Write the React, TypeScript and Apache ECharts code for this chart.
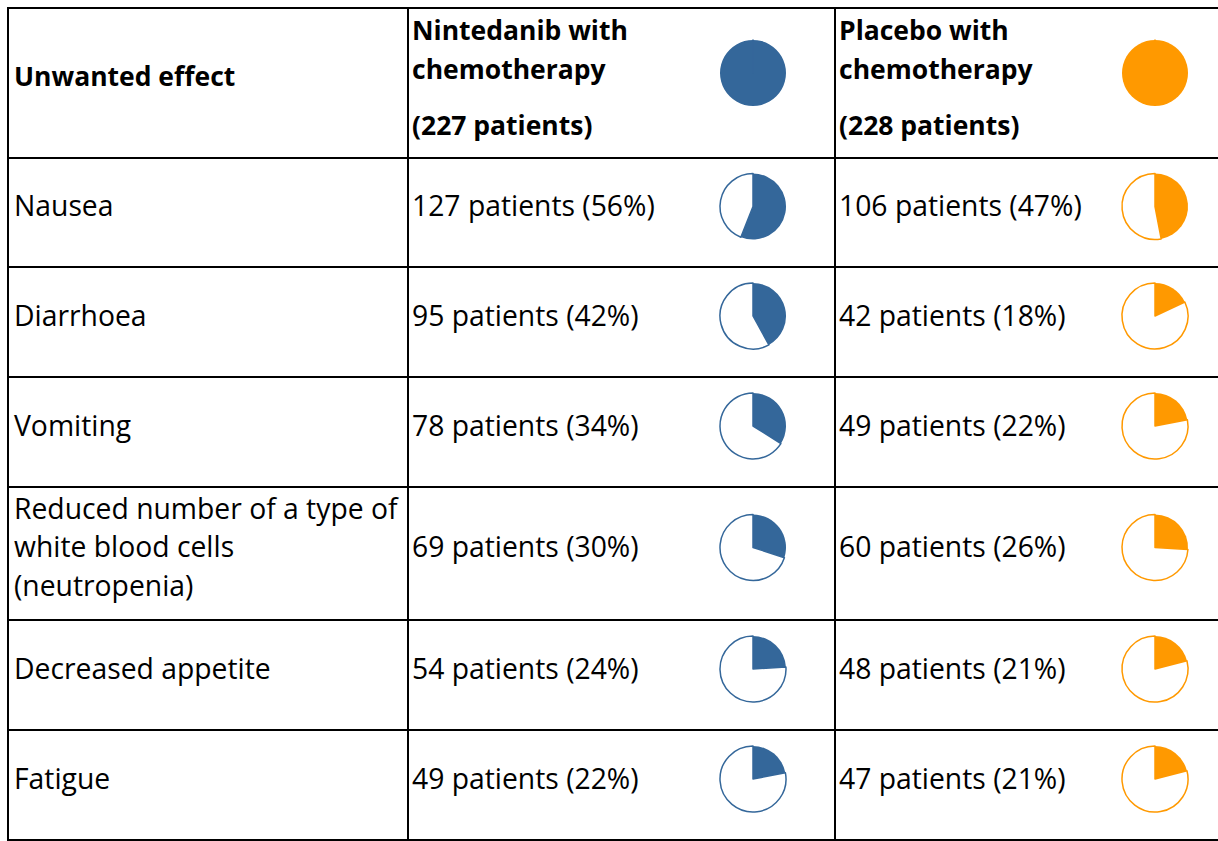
import React, { useEffect, useRef } from "react";
import * as echarts from "echarts";

const effects = [
  "Nausea",
  "Diarrhoea",
  "Vomiting",
  "Reduced number of a type of\nwhite blood cells\n(neutropenia)",
  "Decreased appetite",
  "Fatigue",
];
const nintedanibCounts = [127, 95, 78, 69, 54, 49];
const nintedanibPct = [56, 42, 34, 30, 24, 22];
const placeboCounts = [106, 42, 49, 60, 48, 47];
const placeboPct = [47, 18, 22, 26, 21, 21];
const headers = [
  "Unwanted effect",
  "Nintedanib with\nchemotherapy",
  "Placebo with\nchemotherapy",
];
const groupTotals = ["(227 patients)", "(228 patients)"];

const BLUE = "#34679A";
const ORANGE = "#FF9900";
const FONT = "'Open Sans', sans-serif";

// layout (page coordinates; chart div is absolutely positioned at 0,0)
const W = 1218;
const H = 841;
const colX = [8, 408, 835];
const rowY = [8, 158, 267, 377, 487, 620, 730, 840];
const pieX = [753, 1155];
const FS = 28.3;
const FSB = 26.5;

export default function App() {
  const ref = useRef<HTMLDivElement>(null);
  useEffect(() => {
    const chart = echarts.init(ref.current!, null, { renderer: "svg" });
    const graphics: any[] = [];
    const lw = 2;
    rowY.forEach((y) => {
      graphics.push({
        type: "line",
        shape: { x1: colX[0] - 1, y1: y, x2: W, y2: y },
        style: { stroke: "#000", lineWidth: lw },
      });
    });
    colX.forEach((x) => {
      graphics.push({
        type: "line",
        shape: { x1: x, y1: rowY[0], x2: x, y2: rowY[rowY.length - 1] },
        style: { stroke: "#000", lineWidth: lw },
      });
    });
    graphics.push({
      type: "text",
      x: colX[0] + 6,
      y: 76,
      style: {
        text: headers[0],
        font: `bold ${FSB}px ${FONT}`,
        fill: "#000",
        verticalAlign: "middle",
      },
    });
    [1, 2].forEach((i) => {
      graphics.push({
        type: "text",
        x: colX[i] + 4,
        y: 49.5,
        style: {
          text: headers[i],
          font: `bold ${FSB}px ${FONT}`,
          fill: "#000",
          verticalAlign: "middle",
          lineHeight: 39,
        },
      });
      graphics.push({
        type: "text",
        x: colX[i] + 4,
        y: 125,
        style: {
          text: groupTotals[i - 1],
          font: `bold ${FSB}px ${FONT}`,
          fill: "#000",
          verticalAlign: "middle",
        },
      });
    });
    const series: any[] = [];
    const mkPie = (cx: number, cy: number, pct: number, color: string) => ({
      type: "pie",
      center: [cx, cy],
      radius: [0, 33],
      startAngle: 90,
      clockwise: true,
      silent: true,
      label: { show: false },
      labelLine: { show: false },
      emphasis: { disabled: true },
      data: [
        { value: pct, itemStyle: { color, borderColor: color, borderWidth: 0 } },
        {
          value: 100 - pct,
          itemStyle: { color: "#fff", borderColor: color, borderWidth: 1.5 },
        },
      ],
    });
    series.push(mkPie(pieX[0], 73, 100, BLUE));
    series.push(mkPie(pieX[1], 73, 100, ORANGE));
    effects.forEach((eff, i) => {
      const cy = (rowY[i + 1] + rowY[i + 2]) / 2 - 6;
      const ty = cy - 1.5;
      graphics.push({
        type: "text",
        x: colX[0] + 6,
        y: ty,
        style: {
          text: eff,
          font: `${FS}px ${FONT}`,
          fill: "#000",
          verticalAlign: "middle",
          lineHeight: 38.5,
        },
      });
      graphics.push({
        type: "text",
        x: colX[1] + 4,
        y: ty,
        style: {
          text: `${nintedanibCounts[i]} patients (${nintedanibPct[i]}%)`,
          font: `${FS}px ${FONT}`,
          fill: "#000",
          verticalAlign: "middle",
        },
      });
      graphics.push({
        type: "text",
        x: colX[2] + 4,
        y: ty,
        style: {
          text: `${placeboCounts[i]} patients (${placeboPct[i]}%)`,
          font: `${FS}px ${FONT}`,
          fill: "#000",
          verticalAlign: "middle",
        },
      });
      series.push(mkPie(pieX[0], cy, nintedanibPct[i], BLUE));
      series.push(mkPie(pieX[1], cy, placeboPct[i], ORANGE));
    });
    chart.setOption({
      animation: false,
      backgroundColor: "#fff",
      series,
      graphic: { elements: graphics },
    });
    return () => chart.dispose();
  }, []);
  return (
    <div
      ref={ref}
      style={{ position: "absolute", left: 0, top: 0, width: W, height: H }}
    />
  );
}
